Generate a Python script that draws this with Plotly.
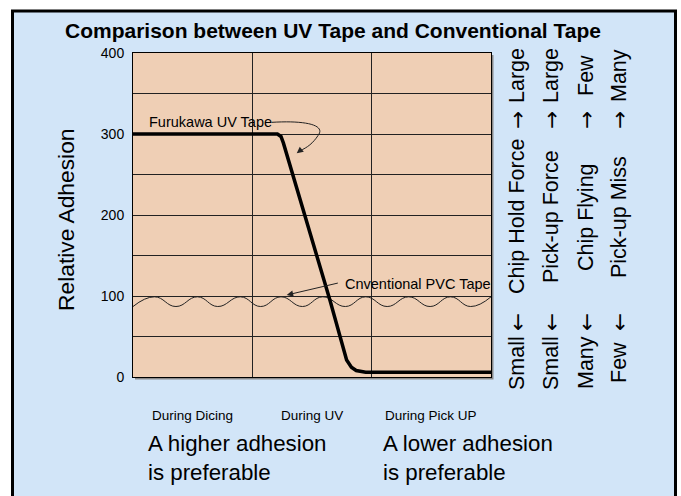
import plotly.graph_objects as go

# ---------------- data ----------------
phases = ["During Dicing", "During UV", "During Pick UP"]
y_ticks = [0, 100, 200, 300, 400]

uv_x = [0, 1.21, 1.24, 1.26, 1.65, 1.79, 1.83, 1.87, 1.95, 3.0]
uv_y = [300, 300, 297, 289, 95, 21, 12, 8, 6, 6]

pvc_x = [0, 0.18, 0.36, 0.54, 0.71, 0.90, 1.07, 1.24, 1.42, 1.59, 1.78, 1.95,
         2.13, 2.31, 2.49, 2.66, 2.83, 3.0]
pvc_y = [87, 99, 87, 99, 87, 99, 87, 99, 87, 99, 87, 99, 87, 99, 87, 99, 87, 99]

low_words = ["Small", "Small", "Many", "Few"]
mid_words = ["Chip Hold Force", "Pick-up Force", "Chip Flying", "Pick-up Miss"]
high_words = ["Large", "Large", "Few", "Many"]

# ---------------- layout helpers ----------------
FIG_W, FIG_H = 681, 496
L, T, W, H = 133, 53, 358, 324
FONT = "Liberation Sans, Arial, Helvetica, sans-serif"
ARROW_FONT = "DejaVu Sans, sans-serif"
BLUE = "#d2e5f8"
PEACH = "#efcfb5"


def px(x):
    return (x - L) / W


def py(y):
    return (T + H - y) / H


fig = go.Figure()

fig.add_trace(go.Scatter(x=pvc_x, y=pvc_y, mode="lines",
                         line=dict(color="#222", width=1, shape="spline", smoothing=1.3),
                         hoverinfo="skip", showlegend=False))
fig.add_trace(go.Scatter(x=uv_x, y=uv_y, mode="lines",
                         line=dict(color="black", width=3.5),
                         hoverinfo="skip", showlegend=False))

shapes = [
    dict(type="rect", xref="paper", yref="paper", layer="below",
         x0=px(12.5), x1=px(675.5), y0=py(498), y1=py(11),
         fillcolor=BLUE, line=dict(color="black", width=3)),
    dict(type="rect", xref="paper", yref="paper", layer="below",
         x0=px(135), x1=px(493.5), y0=py(379.5), y1=py(55),
         fillcolor="#8a8a8a", line=dict(width=0)),
    dict(type="rect", xref="paper", yref="paper", layer="below",
         x0=0, x1=1, y0=0, y1=1,
         fillcolor=PEACH, line=dict(width=0)),
    dict(type="path", xref="x", yref="y",
         path="M 1.162,314.4 C 1.45,317 1.62,311 1.55,298 C 1.51,289 1.46,283 1.40,279.5",
         line=dict(color="#222", width=1)),
]

ann = []
ann.append(dict(text="<b>Comparison between UV Tape and Conventional Tape</b>",
                xref="paper", yref="paper", x=px(332.5), y=py(31),
                xanchor="center", yanchor="middle", showarrow=False,
                font=dict(family=FONT, size=21, color="black")))
ann.append(dict(text="Relative Adhesion", xref="paper", yref="paper",
                x=px(66), y=py(220), textangle=-90, xanchor="center", yanchor="middle",
                showarrow=False, font=dict(family=FONT, size=22.8, color="black")))
for i, p in enumerate(phases):
    ann.append(dict(text=p, xref="x", yref="paper", x=i + 0.5, y=py(415),
                    xanchor="center", yanchor="middle", showarrow=False,
                    font=dict(family=FONT, size=13.5, color="black")))
ann.append(dict(text="A higher adhesion<br>is preferable", xref="paper", yref="paper",
                x=px(146), y=py(458), xanchor="left", yanchor="middle", align="left",
                showarrow=False, font=dict(family=FONT, size=22.3, color="black")))
ann.append(dict(text="A lower adhesion<br>is preferable", xref="paper", yref="paper",
                x=px(381), y=py(458), xanchor="left", yanchor="middle", align="left",
                showarrow=False, font=dict(family=FONT, size=22.3, color="black")))
ann.append(dict(text="Furukawa UV Tape", xref="x", yref="y", x=0.12, y=315.2,
                xanchor="left", yanchor="middle", showarrow=False,
                font=dict(family=FONT, size=14.5, color="black")))
ann.append(dict(text="", xref="x", yref="y", x=1.372, y=276.2, axref="x", ayref="y",
                ax=1.40, ay=279.5, showarrow=True, arrowhead=2, arrowsize=1.3,
                arrowwidth=1, arrowcolor="#222", standoff=0))
ann.append(dict(text="Cnventional PVC Tape", xref="x", yref="y", x=1.76, y=114.4,
                xanchor="left", yanchor="middle", showarrow=False,
                font=dict(family=FONT, size=14.5, color="black")))
ann.append(dict(text="", xref="x", yref="y", x=1.288, y=101.2, axref="x", ayref="y",
                ax=1.729, ay=116.4, showarrow=True, arrowhead=2, arrowsize=1.3,
                arrowwidth=1, arrowcolor="#222", standoff=0))
col_x = [517, 551, 586, 619]
for cx, lo, mid, hi in zip(col_x, low_words, mid_words, high_words):
    for txt, cy, fam in [(lo, 363, FONT), ("←", 322, ARROW_FONT), (mid, 217, FONT),
                         ("→", 120, ARROW_FONT), (hi, 76, FONT)]:
        ann.append(dict(text=txt, xref="paper", yref="paper", x=px(cx), y=py(cy),
                        textangle=-90, xanchor="center", yanchor="middle",
                        showarrow=False, font=dict(family=fam, size=21.5, color="black")))

fig.update_layout(
    width=FIG_W, height=FIG_H,
    margin=dict(l=L, r=FIG_W - L - W, t=T, b=FIG_H - T - H, pad=0),
    paper_bgcolor="white", plot_bgcolor="rgba(0,0,0,0)",
    shapes=shapes, annotations=ann, showlegend=False,
    xaxis=dict(range=[0, 3], tickvals=[1, 2], showticklabels=False, ticks="",
               showgrid=True, gridcolor="#222", gridwidth=1, zeroline=False,
               showline=True, mirror=True, linecolor="black", linewidth=1,
               fixedrange=True),
    yaxis=dict(range=[0, 400], tickvals=y_ticks, ticktext=[str(v) for v in y_ticks],
               ticks="", ticklabelstandoff=5,
               tickfont=dict(family=FONT, size=14, color="black"),
               showgrid=True, gridcolor="#222", gridwidth=1, zeroline=False,
               minor=dict(tickvals=[50, 150, 250, 350], showgrid=True,
                          gridcolor="#222", gridwidth=1),
               showline=True, mirror=True, linecolor="black", linewidth=1,
               fixedrange=True),
)

fig.write_html("out.html", config={"displayModeBar": False},
               post_script="document.body.style.margin='0px';")
